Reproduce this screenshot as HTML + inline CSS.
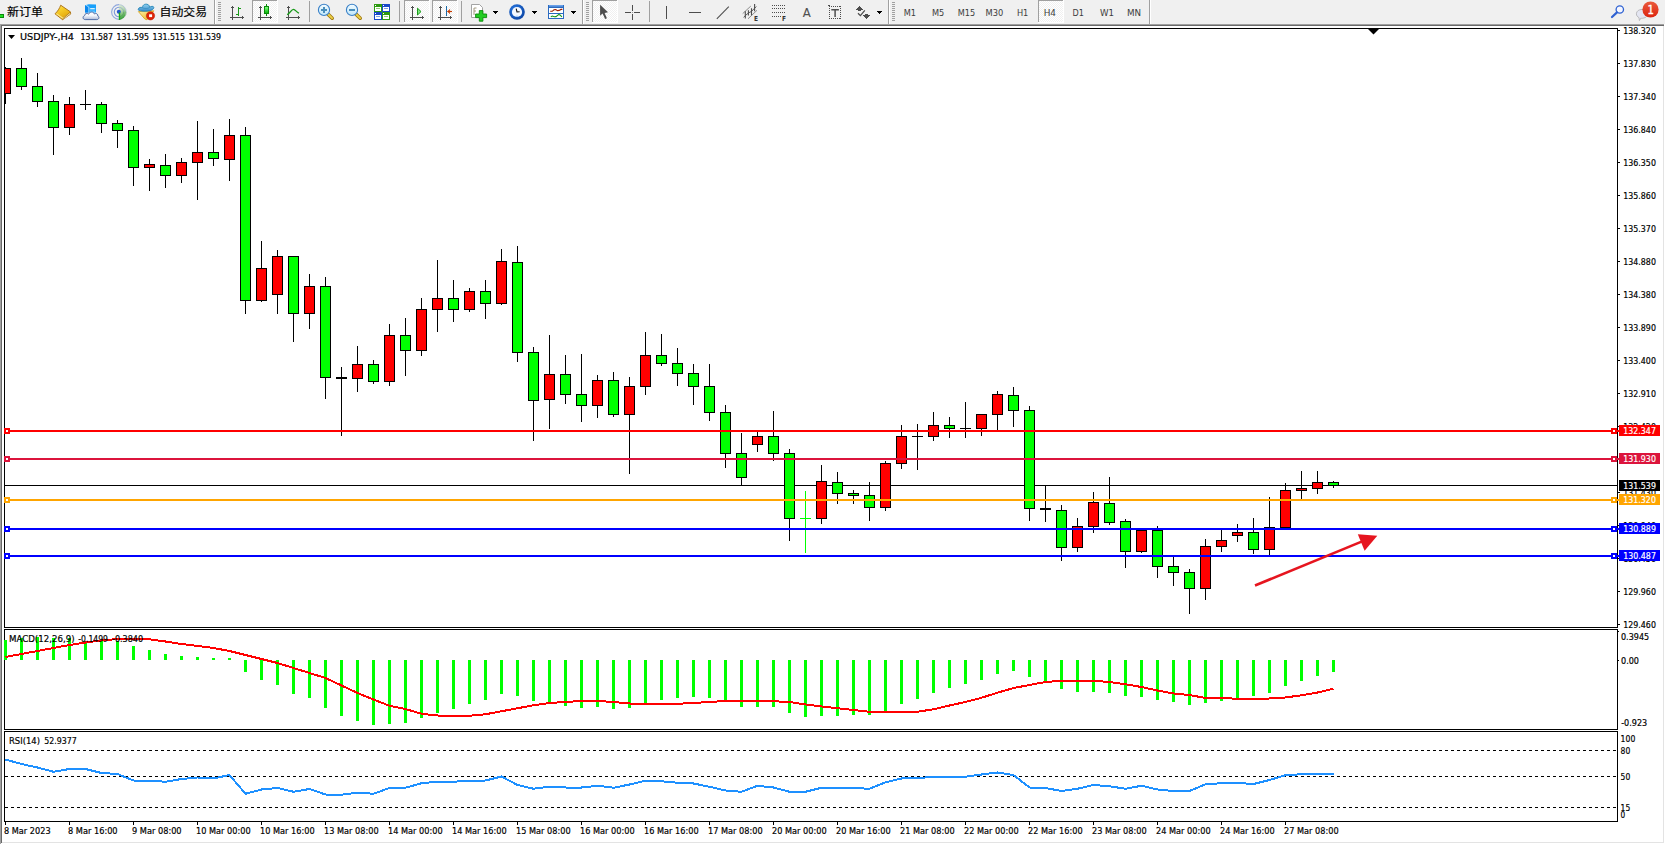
<!DOCTYPE html>
<html lang="zh"><head><meta charset="utf-8"><title>USDJPY-,H4</title>
<style>
html,body{margin:0;padding:0;background:#f0f0f0;overflow:hidden}
body{width:1665px;height:844px}
svg{display:block;font-family:"DejaVu Sans","Liberation Sans","Noto Sans CJK SC",sans-serif}
text{white-space:pre}
</style></head><body>
<svg width="1665" height="844" viewBox="0 0 1665 844">
<g shape-rendering="crispEdges">
<rect x="0" y="0" width="1665" height="24" fill="#f0f0f0"/>
<rect x="0" y="24" width="1665" height="820" fill="#ffffff"/>
<rect x="0" y="24" width="1664" height="1" fill="#a0a0a0"/>
<rect x="0" y="24" width="1" height="820" fill="#a0a0a0"/>
<rect x="1" y="25" width="1663" height="1" fill="#696969"/>
<rect x="1" y="25" width="1" height="818" fill="#696969"/>
<rect x="2" y="842" width="1662" height="1" fill="#e3e3e3"/>
<rect x="1663" y="26" width="1" height="817" fill="#e3e3e3"/>
<rect x="4" y="28" width="1614" height="1" fill="#000"/>
<rect x="4" y="627" width="1614" height="1" fill="#000"/>
<rect x="4" y="28" width="1" height="600" fill="#000"/>
<rect x="1617" y="28" width="1" height="600" fill="#000"/>
<rect x="4" y="629" width="1614" height="1" fill="#000"/>
<rect x="4" y="729" width="1614" height="1" fill="#000"/>
<rect x="4" y="629" width="1" height="101" fill="#000"/>
<rect x="1617" y="629" width="1" height="101" fill="#000"/>
<rect x="4" y="731" width="1614" height="1" fill="#000"/>
<rect x="4" y="821" width="1614" height="1" fill="#000"/>
<rect x="4" y="731" width="1" height="91" fill="#000"/>
<rect x="1617" y="731" width="1" height="91" fill="#000"/>
<rect x="5" y="485" width="1612" height="1" fill="#000"/>
<rect x="5" y="67" width="1" height="37" fill="#000"/>
<rect x="5" y="68" width="6" height="26" fill="#000"/>
<rect x="5" y="69" width="5" height="24" fill="#ff0000"/>
<rect x="21" y="58" width="1" height="32" fill="#000"/>
<rect x="16" y="68" width="11" height="19" fill="#000"/>
<rect x="17" y="69" width="9" height="17" fill="#00ff00"/>
<rect x="37" y="73" width="1" height="34" fill="#000"/>
<rect x="32" y="86" width="11" height="16" fill="#000"/>
<rect x="33" y="87" width="9" height="14" fill="#00ff00"/>
<rect x="53" y="95" width="1" height="60" fill="#000"/>
<rect x="48" y="101" width="11" height="27" fill="#000"/>
<rect x="49" y="102" width="9" height="25" fill="#00ff00"/>
<rect x="69" y="97" width="1" height="38" fill="#000"/>
<rect x="64" y="104" width="11" height="24" fill="#000"/>
<rect x="65" y="105" width="9" height="22" fill="#ff0000"/>
<rect x="85" y="90" width="1" height="20" fill="#000"/>
<rect x="80" y="104" width="11" height="1" fill="#000"/>
<rect x="101" y="102" width="1" height="31" fill="#000"/>
<rect x="96" y="104" width="11" height="20" fill="#000"/>
<rect x="97" y="105" width="9" height="18" fill="#00ff00"/>
<rect x="117" y="120" width="1" height="28" fill="#000"/>
<rect x="112" y="123" width="11" height="8" fill="#000"/>
<rect x="113" y="124" width="9" height="6" fill="#00ff00"/>
<rect x="133" y="126" width="1" height="60" fill="#000"/>
<rect x="128" y="130" width="11" height="38" fill="#000"/>
<rect x="129" y="131" width="9" height="36" fill="#00ff00"/>
<rect x="149" y="159" width="1" height="32" fill="#000"/>
<rect x="144" y="164" width="11" height="4" fill="#000"/>
<rect x="145" y="165" width="9" height="2" fill="#ff0000"/>
<rect x="165" y="154" width="1" height="34" fill="#000"/>
<rect x="160" y="165" width="11" height="11" fill="#000"/>
<rect x="161" y="166" width="9" height="9" fill="#00ff00"/>
<rect x="181" y="158" width="1" height="25" fill="#000"/>
<rect x="176" y="162" width="11" height="14" fill="#000"/>
<rect x="177" y="163" width="9" height="12" fill="#ff0000"/>
<rect x="197" y="121" width="1" height="79" fill="#000"/>
<rect x="192" y="152" width="11" height="11" fill="#000"/>
<rect x="193" y="153" width="9" height="9" fill="#ff0000"/>
<rect x="213" y="129" width="1" height="37" fill="#000"/>
<rect x="208" y="152" width="11" height="7" fill="#000"/>
<rect x="209" y="153" width="9" height="5" fill="#00ff00"/>
<rect x="229" y="119" width="1" height="62" fill="#000"/>
<rect x="224" y="135" width="11" height="25" fill="#000"/>
<rect x="225" y="136" width="9" height="23" fill="#ff0000"/>
<rect x="245" y="127" width="1" height="187" fill="#000"/>
<rect x="240" y="135" width="11" height="166" fill="#000"/>
<rect x="241" y="136" width="9" height="164" fill="#00ff00"/>
<rect x="261" y="241" width="1" height="61" fill="#000"/>
<rect x="256" y="268" width="11" height="33" fill="#000"/>
<rect x="257" y="269" width="9" height="31" fill="#ff0000"/>
<rect x="277" y="250" width="1" height="64" fill="#000"/>
<rect x="272" y="256" width="11" height="39" fill="#000"/>
<rect x="273" y="257" width="9" height="37" fill="#ff0000"/>
<rect x="293" y="256" width="1" height="86" fill="#000"/>
<rect x="288" y="256" width="11" height="58" fill="#000"/>
<rect x="289" y="257" width="9" height="56" fill="#00ff00"/>
<rect x="309" y="274" width="1" height="55" fill="#000"/>
<rect x="304" y="286" width="11" height="28" fill="#000"/>
<rect x="305" y="287" width="9" height="26" fill="#ff0000"/>
<rect x="325" y="277" width="1" height="122" fill="#000"/>
<rect x="320" y="286" width="11" height="92" fill="#000"/>
<rect x="321" y="287" width="9" height="90" fill="#00ff00"/>
<rect x="341" y="367" width="1" height="69" fill="#000"/>
<rect x="336" y="377" width="11" height="2" fill="#000"/>
<rect x="357" y="346" width="1" height="46" fill="#000"/>
<rect x="352" y="364" width="11" height="15" fill="#000"/>
<rect x="353" y="365" width="9" height="13" fill="#ff0000"/>
<rect x="373" y="360" width="1" height="24" fill="#000"/>
<rect x="368" y="364" width="11" height="18" fill="#000"/>
<rect x="369" y="365" width="9" height="16" fill="#00ff00"/>
<rect x="389" y="324" width="1" height="62" fill="#000"/>
<rect x="384" y="335" width="11" height="47" fill="#000"/>
<rect x="385" y="336" width="9" height="45" fill="#ff0000"/>
<rect x="405" y="318" width="1" height="58" fill="#000"/>
<rect x="400" y="335" width="11" height="16" fill="#000"/>
<rect x="401" y="336" width="9" height="14" fill="#00ff00"/>
<rect x="421" y="298" width="1" height="58" fill="#000"/>
<rect x="416" y="309" width="11" height="42" fill="#000"/>
<rect x="417" y="310" width="9" height="40" fill="#ff0000"/>
<rect x="437" y="260" width="1" height="72" fill="#000"/>
<rect x="432" y="298" width="11" height="12" fill="#000"/>
<rect x="433" y="299" width="9" height="10" fill="#ff0000"/>
<rect x="453" y="280" width="1" height="42" fill="#000"/>
<rect x="448" y="298" width="11" height="12" fill="#000"/>
<rect x="449" y="299" width="9" height="10" fill="#00ff00"/>
<rect x="469" y="288" width="1" height="24" fill="#000"/>
<rect x="464" y="291" width="11" height="19" fill="#000"/>
<rect x="465" y="292" width="9" height="17" fill="#ff0000"/>
<rect x="485" y="280" width="1" height="39" fill="#000"/>
<rect x="480" y="291" width="11" height="13" fill="#000"/>
<rect x="481" y="292" width="9" height="11" fill="#00ff00"/>
<rect x="501" y="249" width="1" height="56" fill="#000"/>
<rect x="496" y="261" width="11" height="43" fill="#000"/>
<rect x="497" y="262" width="9" height="41" fill="#ff0000"/>
<rect x="517" y="246" width="1" height="116" fill="#000"/>
<rect x="512" y="262" width="11" height="91" fill="#000"/>
<rect x="513" y="263" width="9" height="89" fill="#00ff00"/>
<rect x="533" y="347" width="1" height="94" fill="#000"/>
<rect x="528" y="352" width="11" height="49" fill="#000"/>
<rect x="529" y="353" width="9" height="47" fill="#00ff00"/>
<rect x="549" y="335" width="1" height="94" fill="#000"/>
<rect x="544" y="374" width="11" height="26" fill="#000"/>
<rect x="545" y="375" width="9" height="24" fill="#ff0000"/>
<rect x="565" y="355" width="1" height="49" fill="#000"/>
<rect x="560" y="374" width="11" height="21" fill="#000"/>
<rect x="561" y="375" width="9" height="19" fill="#00ff00"/>
<rect x="581" y="354" width="1" height="68" fill="#000"/>
<rect x="576" y="394" width="11" height="12" fill="#000"/>
<rect x="577" y="395" width="9" height="10" fill="#00ff00"/>
<rect x="597" y="375" width="1" height="43" fill="#000"/>
<rect x="592" y="380" width="11" height="26" fill="#000"/>
<rect x="593" y="381" width="9" height="24" fill="#ff0000"/>
<rect x="613" y="372" width="1" height="45" fill="#000"/>
<rect x="608" y="380" width="11" height="35" fill="#000"/>
<rect x="609" y="381" width="9" height="33" fill="#00ff00"/>
<rect x="629" y="377" width="1" height="97" fill="#000"/>
<rect x="624" y="386" width="11" height="29" fill="#000"/>
<rect x="625" y="387" width="9" height="27" fill="#ff0000"/>
<rect x="645" y="332" width="1" height="63" fill="#000"/>
<rect x="640" y="355" width="11" height="32" fill="#000"/>
<rect x="641" y="356" width="9" height="30" fill="#ff0000"/>
<rect x="661" y="334" width="1" height="32" fill="#000"/>
<rect x="656" y="355" width="11" height="9" fill="#000"/>
<rect x="657" y="356" width="9" height="7" fill="#00ff00"/>
<rect x="677" y="348" width="1" height="38" fill="#000"/>
<rect x="672" y="363" width="11" height="11" fill="#000"/>
<rect x="673" y="364" width="9" height="9" fill="#00ff00"/>
<rect x="693" y="364" width="1" height="41" fill="#000"/>
<rect x="688" y="373" width="11" height="14" fill="#000"/>
<rect x="689" y="374" width="9" height="12" fill="#00ff00"/>
<rect x="709" y="364" width="1" height="57" fill="#000"/>
<rect x="704" y="386" width="11" height="27" fill="#000"/>
<rect x="705" y="387" width="9" height="25" fill="#00ff00"/>
<rect x="725" y="405" width="1" height="63" fill="#000"/>
<rect x="720" y="412" width="11" height="42" fill="#000"/>
<rect x="721" y="413" width="9" height="40" fill="#00ff00"/>
<rect x="741" y="433" width="1" height="52" fill="#000"/>
<rect x="736" y="453" width="11" height="25" fill="#000"/>
<rect x="737" y="454" width="9" height="23" fill="#00ff00"/>
<rect x="757" y="432" width="1" height="20" fill="#000"/>
<rect x="752" y="436" width="11" height="9" fill="#000"/>
<rect x="753" y="437" width="9" height="7" fill="#ff0000"/>
<rect x="773" y="411" width="1" height="50" fill="#000"/>
<rect x="768" y="436" width="11" height="18" fill="#000"/>
<rect x="769" y="437" width="9" height="16" fill="#00ff00"/>
<rect x="789" y="449" width="1" height="92" fill="#000"/>
<rect x="784" y="453" width="11" height="66" fill="#000"/>
<rect x="785" y="454" width="9" height="64" fill="#00ff00"/>
<rect x="805" y="491" width="1" height="62" fill="#00ff00"/>
<rect x="800" y="518" width="11" height="1" fill="#00ff00"/>
<rect x="821" y="465" width="1" height="59" fill="#000"/>
<rect x="816" y="481" width="11" height="38" fill="#000"/>
<rect x="817" y="482" width="9" height="36" fill="#ff0000"/>
<rect x="837" y="472" width="1" height="32" fill="#000"/>
<rect x="832" y="482" width="11" height="12" fill="#000"/>
<rect x="833" y="483" width="9" height="10" fill="#00ff00"/>
<rect x="853" y="490" width="1" height="14" fill="#000"/>
<rect x="848" y="493" width="11" height="3" fill="#000"/>
<rect x="849" y="494" width="9" height="1" fill="#00ff00"/>
<rect x="869" y="482" width="1" height="39" fill="#000"/>
<rect x="864" y="495" width="11" height="13" fill="#000"/>
<rect x="865" y="496" width="9" height="11" fill="#00ff00"/>
<rect x="885" y="461" width="1" height="50" fill="#000"/>
<rect x="880" y="463" width="11" height="45" fill="#000"/>
<rect x="881" y="464" width="9" height="43" fill="#ff0000"/>
<rect x="901" y="425" width="1" height="44" fill="#000"/>
<rect x="896" y="436" width="11" height="28" fill="#000"/>
<rect x="897" y="437" width="9" height="26" fill="#ff0000"/>
<rect x="917" y="424" width="1" height="46" fill="#000"/>
<rect x="912" y="436" width="11" height="1" fill="#000"/>
<rect x="933" y="412" width="1" height="29" fill="#000"/>
<rect x="928" y="425" width="11" height="12" fill="#000"/>
<rect x="929" y="426" width="9" height="10" fill="#ff0000"/>
<rect x="949" y="417" width="1" height="21" fill="#000"/>
<rect x="944" y="425" width="11" height="4" fill="#000"/>
<rect x="945" y="426" width="9" height="2" fill="#00ff00"/>
<rect x="965" y="402" width="1" height="36" fill="#000"/>
<rect x="960" y="428" width="11" height="1" fill="#000"/>
<rect x="981" y="414" width="1" height="22" fill="#000"/>
<rect x="976" y="414" width="11" height="15" fill="#000"/>
<rect x="977" y="415" width="9" height="13" fill="#ff0000"/>
<rect x="997" y="391" width="1" height="39" fill="#000"/>
<rect x="992" y="394" width="11" height="21" fill="#000"/>
<rect x="993" y="395" width="9" height="19" fill="#ff0000"/>
<rect x="1013" y="387" width="1" height="40" fill="#000"/>
<rect x="1008" y="395" width="11" height="16" fill="#000"/>
<rect x="1009" y="396" width="9" height="14" fill="#00ff00"/>
<rect x="1029" y="406" width="1" height="115" fill="#000"/>
<rect x="1024" y="410" width="11" height="99" fill="#000"/>
<rect x="1025" y="411" width="9" height="97" fill="#00ff00"/>
<rect x="1045" y="485" width="1" height="37" fill="#000"/>
<rect x="1040" y="508" width="11" height="2" fill="#000"/>
<rect x="1061" y="505" width="1" height="56" fill="#000"/>
<rect x="1056" y="510" width="11" height="38" fill="#000"/>
<rect x="1057" y="511" width="9" height="36" fill="#00ff00"/>
<rect x="1077" y="518" width="1" height="34" fill="#000"/>
<rect x="1072" y="526" width="11" height="22" fill="#000"/>
<rect x="1073" y="527" width="9" height="20" fill="#ff0000"/>
<rect x="1093" y="492" width="1" height="41" fill="#000"/>
<rect x="1088" y="502" width="11" height="25" fill="#000"/>
<rect x="1089" y="503" width="9" height="23" fill="#ff0000"/>
<rect x="1109" y="477" width="1" height="48" fill="#000"/>
<rect x="1104" y="503" width="11" height="20" fill="#000"/>
<rect x="1105" y="504" width="9" height="18" fill="#00ff00"/>
<rect x="1125" y="519" width="1" height="49" fill="#000"/>
<rect x="1120" y="521" width="11" height="31" fill="#000"/>
<rect x="1121" y="522" width="9" height="29" fill="#00ff00"/>
<rect x="1141" y="530" width="1" height="23" fill="#000"/>
<rect x="1136" y="530" width="11" height="22" fill="#000"/>
<rect x="1137" y="531" width="9" height="20" fill="#ff0000"/>
<rect x="1157" y="526" width="1" height="52" fill="#000"/>
<rect x="1152" y="530" width="11" height="37" fill="#000"/>
<rect x="1153" y="531" width="9" height="35" fill="#00ff00"/>
<rect x="1173" y="557" width="1" height="29" fill="#000"/>
<rect x="1168" y="566" width="11" height="7" fill="#000"/>
<rect x="1169" y="567" width="9" height="5" fill="#00ff00"/>
<rect x="1189" y="569" width="1" height="45" fill="#000"/>
<rect x="1184" y="572" width="11" height="17" fill="#000"/>
<rect x="1185" y="573" width="9" height="15" fill="#00ff00"/>
<rect x="1205" y="539" width="1" height="61" fill="#000"/>
<rect x="1200" y="546" width="11" height="43" fill="#000"/>
<rect x="1201" y="547" width="9" height="41" fill="#ff0000"/>
<rect x="1221" y="530" width="1" height="22" fill="#000"/>
<rect x="1216" y="540" width="11" height="7" fill="#000"/>
<rect x="1217" y="541" width="9" height="5" fill="#ff0000"/>
<rect x="1237" y="524" width="1" height="18" fill="#000"/>
<rect x="1232" y="532" width="11" height="4" fill="#000"/>
<rect x="1233" y="533" width="9" height="2" fill="#ff0000"/>
<rect x="1253" y="518" width="1" height="36" fill="#000"/>
<rect x="1248" y="532" width="11" height="18" fill="#000"/>
<rect x="1249" y="533" width="9" height="16" fill="#00ff00"/>
<rect x="1269" y="497" width="1" height="58" fill="#000"/>
<rect x="1264" y="527" width="11" height="23" fill="#000"/>
<rect x="1265" y="528" width="9" height="21" fill="#ff0000"/>
<rect x="1285" y="483" width="1" height="45" fill="#000"/>
<rect x="1280" y="490" width="11" height="38" fill="#000"/>
<rect x="1281" y="491" width="9" height="36" fill="#ff0000"/>
<rect x="1301" y="471" width="1" height="28" fill="#000"/>
<rect x="1296" y="488" width="11" height="3" fill="#000"/>
<rect x="1297" y="489" width="9" height="1" fill="#ff0000"/>
<rect x="1317" y="471" width="1" height="23" fill="#000"/>
<rect x="1312" y="482" width="11" height="7" fill="#000"/>
<rect x="1313" y="483" width="9" height="5" fill="#ff0000"/>
<rect x="1333" y="481" width="1" height="7" fill="#000"/>
<rect x="1328" y="482" width="11" height="4" fill="#000"/>
<rect x="1329" y="483" width="9" height="2" fill="#00ff00"/>
</g>
<g id="plabels">
<rect x="1618" y="30" width="2" height="1" fill="#000" shape-rendering="crispEdges"/>
<text x="1623.3" y="34" font-size="9" fill="#000" stroke="#000" stroke-width="0.2" textLength="32.6" lengthAdjust="spacingAndGlyphs">138.320</text>
<rect x="1618" y="63" width="2" height="1" fill="#000" shape-rendering="crispEdges"/>
<text x="1623.3" y="67" font-size="9" fill="#000" stroke="#000" stroke-width="0.2" textLength="32.6" lengthAdjust="spacingAndGlyphs">137.830</text>
<rect x="1618" y="96" width="2" height="1" fill="#000" shape-rendering="crispEdges"/>
<text x="1623.3" y="100" font-size="9" fill="#000" stroke="#000" stroke-width="0.2" textLength="32.6" lengthAdjust="spacingAndGlyphs">137.340</text>
<rect x="1618" y="129" width="2" height="1" fill="#000" shape-rendering="crispEdges"/>
<text x="1623.3" y="133" font-size="9" fill="#000" stroke="#000" stroke-width="0.2" textLength="32.6" lengthAdjust="spacingAndGlyphs">136.840</text>
<rect x="1618" y="162" width="2" height="1" fill="#000" shape-rendering="crispEdges"/>
<text x="1623.3" y="166" font-size="9" fill="#000" stroke="#000" stroke-width="0.2" textLength="32.6" lengthAdjust="spacingAndGlyphs">136.350</text>
<rect x="1618" y="195" width="2" height="1" fill="#000" shape-rendering="crispEdges"/>
<text x="1623.3" y="199" font-size="9" fill="#000" stroke="#000" stroke-width="0.2" textLength="32.6" lengthAdjust="spacingAndGlyphs">135.860</text>
<rect x="1618" y="228" width="2" height="1" fill="#000" shape-rendering="crispEdges"/>
<text x="1623.3" y="232" font-size="9" fill="#000" stroke="#000" stroke-width="0.2" textLength="32.6" lengthAdjust="spacingAndGlyphs">135.370</text>
<rect x="1618" y="261" width="2" height="1" fill="#000" shape-rendering="crispEdges"/>
<text x="1623.3" y="265" font-size="9" fill="#000" stroke="#000" stroke-width="0.2" textLength="32.6" lengthAdjust="spacingAndGlyphs">134.880</text>
<rect x="1618" y="294" width="2" height="1" fill="#000" shape-rendering="crispEdges"/>
<text x="1623.3" y="298" font-size="9" fill="#000" stroke="#000" stroke-width="0.2" textLength="32.6" lengthAdjust="spacingAndGlyphs">134.380</text>
<rect x="1618" y="327" width="2" height="1" fill="#000" shape-rendering="crispEdges"/>
<text x="1623.3" y="331" font-size="9" fill="#000" stroke="#000" stroke-width="0.2" textLength="32.6" lengthAdjust="spacingAndGlyphs">133.890</text>
<rect x="1618" y="360" width="2" height="1" fill="#000" shape-rendering="crispEdges"/>
<text x="1623.3" y="364" font-size="9" fill="#000" stroke="#000" stroke-width="0.2" textLength="32.6" lengthAdjust="spacingAndGlyphs">133.400</text>
<rect x="1618" y="393" width="2" height="1" fill="#000" shape-rendering="crispEdges"/>
<text x="1623.3" y="397" font-size="9" fill="#000" stroke="#000" stroke-width="0.2" textLength="32.6" lengthAdjust="spacingAndGlyphs">132.910</text>
<rect x="1618" y="426" width="2" height="1" fill="#000" shape-rendering="crispEdges"/>
<text x="1623.3" y="430" font-size="9" fill="#000" stroke="#000" stroke-width="0.2" textLength="32.6" lengthAdjust="spacingAndGlyphs">132.420</text>
<rect x="1618" y="459" width="2" height="1" fill="#000" shape-rendering="crispEdges"/>
<text x="1623.3" y="463" font-size="9" fill="#000" stroke="#000" stroke-width="0.2" textLength="32.6" lengthAdjust="spacingAndGlyphs">131.930</text>
<rect x="1618" y="492" width="2" height="1" fill="#000" shape-rendering="crispEdges"/>
<text x="1623.3" y="496" font-size="9" fill="#000" stroke="#000" stroke-width="0.2" textLength="32.6" lengthAdjust="spacingAndGlyphs">131.430</text>
<rect x="1618" y="525" width="2" height="1" fill="#000" shape-rendering="crispEdges"/>
<text x="1623.3" y="529" font-size="9" fill="#000" stroke="#000" stroke-width="0.2" textLength="32.6" lengthAdjust="spacingAndGlyphs">130.940</text>
<rect x="1618" y="558" width="2" height="1" fill="#000" shape-rendering="crispEdges"/>
<text x="1623.3" y="562" font-size="9" fill="#000" stroke="#000" stroke-width="0.2" textLength="32.6" lengthAdjust="spacingAndGlyphs">130.450</text>
<rect x="1618" y="591" width="2" height="1" fill="#000" shape-rendering="crispEdges"/>
<text x="1623.3" y="595" font-size="9" fill="#000" stroke="#000" stroke-width="0.2" textLength="32.6" lengthAdjust="spacingAndGlyphs">129.960</text>
<rect x="1618" y="624" width="2" height="1" fill="#000" shape-rendering="crispEdges"/>
<text x="1623.3" y="628" font-size="9" fill="#000" stroke="#000" stroke-width="0.2" textLength="32.6" lengthAdjust="spacingAndGlyphs">129.460</text>
</g>
<g shape-rendering="crispEdges">
<rect x="5" y="430" width="1614" height="2" fill="#ff0000"/>
<rect x="4" y="428" width="6" height="6" fill="#ff0000"/>
<rect x="6" y="430" width="2" height="2" fill="#fff"/>
<rect x="1611" y="428" width="6" height="6" fill="#ff0000"/>
<rect x="1613" y="430" width="2" height="2" fill="#fff"/>
<rect x="1619" y="425" width="41" height="11" fill="#ff0000"/>
<rect x="5" y="458" width="1614" height="2" fill="#dc143c"/>
<rect x="4" y="456" width="6" height="6" fill="#dc143c"/>
<rect x="6" y="458" width="2" height="2" fill="#fff"/>
<rect x="1611" y="456" width="6" height="6" fill="#dc143c"/>
<rect x="1613" y="458" width="2" height="2" fill="#fff"/>
<rect x="1619" y="453" width="41" height="11" fill="#dc143c"/>
<rect x="5" y="499" width="1614" height="2" fill="#ffa500"/>
<rect x="4" y="497" width="6" height="6" fill="#ffa500"/>
<rect x="6" y="499" width="2" height="2" fill="#fff"/>
<rect x="1611" y="497" width="6" height="6" fill="#ffa500"/>
<rect x="1613" y="499" width="2" height="2" fill="#fff"/>
<rect x="1619" y="494" width="41" height="11" fill="#ffa500"/>
<rect x="5" y="528" width="1614" height="2" fill="#0000ff"/>
<rect x="4" y="526" width="6" height="6" fill="#0000ff"/>
<rect x="6" y="528" width="2" height="2" fill="#fff"/>
<rect x="1611" y="526" width="6" height="6" fill="#0000ff"/>
<rect x="1613" y="528" width="2" height="2" fill="#fff"/>
<rect x="1619" y="523" width="41" height="11" fill="#0000ff"/>
<rect x="5" y="555" width="1614" height="2" fill="#0000ff"/>
<rect x="4" y="553" width="6" height="6" fill="#0000ff"/>
<rect x="6" y="555" width="2" height="2" fill="#fff"/>
<rect x="1611" y="553" width="6" height="6" fill="#0000ff"/>
<rect x="1613" y="555" width="2" height="2" fill="#fff"/>
<rect x="1619" y="550" width="41" height="11" fill="#0000ff"/>
<rect x="1619" y="480" width="41" height="11" fill="#000"/>
</g>
<text x="1623.3" y="434" font-size="9" fill="#fff" stroke="#fff" stroke-width="0.2" textLength="32.6" lengthAdjust="spacingAndGlyphs">132.347</text>
<text x="1623.3" y="462" font-size="9" fill="#fff" stroke="#fff" stroke-width="0.2" textLength="32.6" lengthAdjust="spacingAndGlyphs">131.930</text>
<text x="1623.3" y="503" font-size="9" fill="#fff" stroke="#fff" stroke-width="0.2" textLength="32.6" lengthAdjust="spacingAndGlyphs">131.320</text>
<text x="1623.3" y="532" font-size="9" fill="#fff" stroke="#fff" stroke-width="0.2" textLength="32.6" lengthAdjust="spacingAndGlyphs">130.889</text>
<text x="1623.3" y="559" font-size="9" fill="#fff" stroke="#fff" stroke-width="0.2" textLength="32.6" lengthAdjust="spacingAndGlyphs">130.487</text>
<text x="1623.3" y="489" font-size="9" fill="#fff" stroke="#fff" stroke-width="0.2" textLength="32.6" lengthAdjust="spacingAndGlyphs">131.539</text>
<line x1="1255" y1="585.5" x2="1364" y2="540.6" stroke="#e6151f" stroke-width="2.6"/>
<polygon points="1377.3,535.8 1357.8,534.2 1364.6,550.8" fill="#e6151f"/>
<polygon points="1368,29 1379,29 1373.5,34.5" fill="#000"/>
<polygon points="8,35 15,35 11.5,39" fill="#000"/>
<text x="20" y="40" font-size="9" fill="#000" stroke="#000" stroke-width="0.2" textLength="54.0" lengthAdjust="spacingAndGlyphs">USDJPY-,H4</text>
<text x="80.5" y="40" font-size="9" fill="#000" stroke="#000" stroke-width="0.2" textLength="32.5" lengthAdjust="spacingAndGlyphs">131.587</text>
<text x="116.5" y="40" font-size="9" fill="#000" stroke="#000" stroke-width="0.2" textLength="32.5" lengthAdjust="spacingAndGlyphs">131.595</text>
<text x="152.5" y="40" font-size="9" fill="#000" stroke="#000" stroke-width="0.2" textLength="32.5" lengthAdjust="spacingAndGlyphs">131.515</text>
<text x="188.5" y="40" font-size="9" fill="#000" stroke="#000" stroke-width="0.2" textLength="32.5" lengthAdjust="spacingAndGlyphs">131.539</text>
<g shape-rendering="crispEdges">
<rect x="4" y="640" width="3" height="20" fill="#00ff00"/>
<rect x="20" y="638" width="3" height="22" fill="#00ff00"/>
<rect x="36" y="637" width="3" height="23" fill="#00ff00"/>
<rect x="52" y="638" width="3" height="22" fill="#00ff00"/>
<rect x="68" y="638" width="3" height="22" fill="#00ff00"/>
<rect x="84" y="641" width="3" height="19" fill="#00ff00"/>
<rect x="100" y="640" width="3" height="20" fill="#00ff00"/>
<rect x="116" y="641" width="3" height="19" fill="#00ff00"/>
<rect x="132" y="646" width="3" height="14" fill="#00ff00"/>
<rect x="148" y="650" width="3" height="10" fill="#00ff00"/>
<rect x="164" y="654" width="3" height="6" fill="#00ff00"/>
<rect x="180" y="656" width="3" height="4" fill="#00ff00"/>
<rect x="196" y="657" width="3" height="3" fill="#00ff00"/>
<rect x="212" y="658" width="3" height="2" fill="#00ff00"/>
<rect x="228" y="658" width="3" height="2" fill="#00ff00"/>
<rect x="244" y="660" width="3" height="12" fill="#00ff00"/>
<rect x="260" y="660" width="3" height="20" fill="#00ff00"/>
<rect x="276" y="660" width="3" height="25" fill="#00ff00"/>
<rect x="292" y="660" width="3" height="34" fill="#00ff00"/>
<rect x="308" y="660" width="3" height="38" fill="#00ff00"/>
<rect x="324" y="660" width="3" height="48" fill="#00ff00"/>
<rect x="340" y="660" width="3" height="56" fill="#00ff00"/>
<rect x="356" y="660" width="3" height="61" fill="#00ff00"/>
<rect x="372" y="660" width="3" height="65" fill="#00ff00"/>
<rect x="388" y="660" width="3" height="64" fill="#00ff00"/>
<rect x="404" y="660" width="3" height="63" fill="#00ff00"/>
<rect x="420" y="660" width="3" height="58" fill="#00ff00"/>
<rect x="436" y="660" width="3" height="53" fill="#00ff00"/>
<rect x="452" y="660" width="3" height="49" fill="#00ff00"/>
<rect x="468" y="660" width="3" height="44" fill="#00ff00"/>
<rect x="484" y="660" width="3" height="40" fill="#00ff00"/>
<rect x="500" y="660" width="3" height="34" fill="#00ff00"/>
<rect x="516" y="660" width="3" height="36" fill="#00ff00"/>
<rect x="532" y="660" width="3" height="41" fill="#00ff00"/>
<rect x="548" y="660" width="3" height="43" fill="#00ff00"/>
<rect x="564" y="660" width="3" height="46" fill="#00ff00"/>
<rect x="580" y="660" width="3" height="48" fill="#00ff00"/>
<rect x="596" y="660" width="3" height="47" fill="#00ff00"/>
<rect x="612" y="660" width="3" height="49" fill="#00ff00"/>
<rect x="628" y="660" width="3" height="48" fill="#00ff00"/>
<rect x="644" y="660" width="3" height="43" fill="#00ff00"/>
<rect x="660" y="660" width="3" height="40" fill="#00ff00"/>
<rect x="676" y="660" width="3" height="38" fill="#00ff00"/>
<rect x="692" y="660" width="3" height="37" fill="#00ff00"/>
<rect x="708" y="660" width="3" height="38" fill="#00ff00"/>
<rect x="724" y="660" width="3" height="42" fill="#00ff00"/>
<rect x="740" y="660" width="3" height="47" fill="#00ff00"/>
<rect x="756" y="660" width="3" height="47" fill="#00ff00"/>
<rect x="772" y="660" width="3" height="47" fill="#00ff00"/>
<rect x="788" y="660" width="3" height="53" fill="#00ff00"/>
<rect x="804" y="660" width="3" height="57" fill="#00ff00"/>
<rect x="820" y="660" width="3" height="56" fill="#00ff00"/>
<rect x="836" y="660" width="3" height="56" fill="#00ff00"/>
<rect x="852" y="660" width="3" height="55" fill="#00ff00"/>
<rect x="868" y="660" width="3" height="55" fill="#00ff00"/>
<rect x="884" y="660" width="3" height="51" fill="#00ff00"/>
<rect x="900" y="660" width="3" height="44" fill="#00ff00"/>
<rect x="916" y="660" width="3" height="39" fill="#00ff00"/>
<rect x="932" y="660" width="3" height="33" fill="#00ff00"/>
<rect x="948" y="660" width="3" height="28" fill="#00ff00"/>
<rect x="964" y="660" width="3" height="24" fill="#00ff00"/>
<rect x="980" y="660" width="3" height="20" fill="#00ff00"/>
<rect x="996" y="660" width="3" height="14" fill="#00ff00"/>
<rect x="1012" y="660" width="3" height="11" fill="#00ff00"/>
<rect x="1028" y="660" width="3" height="17" fill="#00ff00"/>
<rect x="1044" y="660" width="3" height="22" fill="#00ff00"/>
<rect x="1060" y="660" width="3" height="29" fill="#00ff00"/>
<rect x="1076" y="660" width="3" height="32" fill="#00ff00"/>
<rect x="1092" y="660" width="3" height="32" fill="#00ff00"/>
<rect x="1108" y="660" width="3" height="33" fill="#00ff00"/>
<rect x="1124" y="660" width="3" height="36" fill="#00ff00"/>
<rect x="1140" y="660" width="3" height="37" fill="#00ff00"/>
<rect x="1156" y="660" width="3" height="40" fill="#00ff00"/>
<rect x="1172" y="660" width="3" height="42" fill="#00ff00"/>
<rect x="1188" y="660" width="3" height="45" fill="#00ff00"/>
<rect x="1204" y="660" width="3" height="43" fill="#00ff00"/>
<rect x="1220" y="660" width="3" height="41" fill="#00ff00"/>
<rect x="1236" y="660" width="3" height="38" fill="#00ff00"/>
<rect x="1252" y="660" width="3" height="36" fill="#00ff00"/>
<rect x="1268" y="660" width="3" height="33" fill="#00ff00"/>
<rect x="1284" y="660" width="3" height="26" fill="#00ff00"/>
<rect x="1300" y="660" width="3" height="21" fill="#00ff00"/>
<rect x="1316" y="660" width="3" height="16" fill="#00ff00"/>
<rect x="1332" y="660" width="3" height="12" fill="#00ff00"/>
</g>
<polyline points="5.5,657 21.5,654 37.5,651 53.5,648 69.5,645 85.5,642.5 101.5,640.5 117.5,639 133.5,638.8 147.5,639 165.5,641.5 181.5,644 197.5,646 213.5,648 229.5,651 245.5,655 261.5,659 277.5,663 293.5,668 309.5,673 325.5,678 341.5,685.5 357.5,693 373.5,699.5 389.5,705.75 405.5,709 421.5,713.75 437.5,715.5 453.5,715.75 469.5,715.75 485.5,714.25 501.5,711.25 517.5,708.25 533.5,705.25 549.5,703 565.5,702 581.5,701 597.5,701 613.5,702 629.5,703.5 645.5,703.75 661.5,703.75 677.5,703.75 693.5,703 709.5,702 725.5,701 741.5,700.75 757.5,700.75 773.5,701.25 789.5,702 805.5,704.5 821.5,706.5 837.5,708.25 853.5,710 869.5,711.75 885.5,712 901.5,712 917.5,711.75 933.5,709.25 949.5,705.5 965.5,702 981.5,697.75 997.5,692.75 1013.5,688 1029.5,685 1045.5,682 1061.5,680.75 1077.5,680.75 1093.5,680.75 1109.5,682 1125.5,684.25 1141.5,687 1157.5,690.5 1173.5,693.5 1189.5,695 1205.5,698 1221.5,698 1237.5,698.75 1253.5,698.75 1269.5,698.5 1285.5,697.5 1301.5,695.25 1317.5,692.5 1333.5,688.75" fill="none" stroke="#ff0000" stroke-width="2" stroke-linejoin="round" shape-rendering="crispEdges"/>
<text x="9" y="642" font-size="9" fill="#000" stroke="#000" stroke-width="0.2" textLength="65.5" lengthAdjust="spacingAndGlyphs">MACD(12,26,9)</text>
<text x="78.3" y="642" font-size="9" fill="#000" stroke="#000" stroke-width="0.2" textLength="29.7" lengthAdjust="spacingAndGlyphs">-0.1499</text>
<text x="112" y="642" font-size="9" fill="#000" stroke="#000" stroke-width="0.2" textLength="31.0" lengthAdjust="spacingAndGlyphs">-0.3840</text>
<text x="1621" y="640" font-size="9" fill="#000" stroke="#000" stroke-width="0.2" textLength="28.1" lengthAdjust="spacingAndGlyphs">0.3945</text>
<text x="1621" y="664" font-size="9" fill="#000" stroke="#000" stroke-width="0.2" textLength="18.0" lengthAdjust="spacingAndGlyphs">0.00</text>
<text x="1621.2" y="726" font-size="9" fill="#000" stroke="#000" stroke-width="0.2" textLength="26.0" lengthAdjust="spacingAndGlyphs">-0.923</text>
<rect x="1618" y="660" width="1" height="1" fill="#000" shape-rendering="crispEdges"/><rect x="1618" y="631" width="1" height="1" fill="#000" shape-rendering="crispEdges"/>
<line x1="5" y1="750.5" x2="1617" y2="750.5" stroke="#000" stroke-width="1" stroke-dasharray="3,3" shape-rendering="crispEdges"/>
<line x1="5" y1="776.5" x2="1617" y2="776.5" stroke="#000" stroke-width="1" stroke-dasharray="3,3" shape-rendering="crispEdges"/>
<line x1="5" y1="807.5" x2="1617" y2="807.5" stroke="#000" stroke-width="1" stroke-dasharray="3,3" shape-rendering="crispEdges"/>
<polyline points="5.5,759.5 21.5,764 37.5,767.5 53.5,771.75 69.5,769 85.5,769 101.5,773 117.5,774 133.5,780.5 149.5,780.75 165.5,781.75 181.5,779 197.5,777.5 213.5,778.5 229.5,775 245.5,793.75 261.5,789.5 277.5,788 293.5,791.75 309.5,789 325.5,794.5 341.5,794.75 357.5,792.75 373.5,793.75 389.5,788 405.5,787.75 421.5,783.25 437.5,781.75 453.5,781.75 469.5,780.75 485.5,780.5 501.5,776.5 517.5,785 533.5,788.75 549.5,786.75 565.5,787.5 581.5,787.5 597.5,785.75 613.5,787.75 629.5,784.5 645.5,780.75 661.5,781.25 677.5,782.75 693.5,783.5 709.5,786.75 725.5,790.5 741.5,791.75 757.5,785.75 773.5,787.5 789.5,791.75 805.5,791.75 821.5,787.75 837.5,787.75 853.5,788 869.5,788.75 885.5,782.25 901.5,778.5 917.5,777.75 933.5,777.25 949.5,776.75 965.5,776.75 981.5,774.5 997.5,772.5 1013.5,775 1029.5,787.5 1045.5,788 1061.5,791 1077.5,788.75 1093.5,785 1109.5,786.25 1125.5,788.75 1141.5,785.75 1157.5,789.5 1173.5,791 1189.5,791 1205.5,784.25 1221.5,783.25 1237.5,783 1253.5,784 1269.5,780 1285.5,775.25 1301.5,774.25 1317.5,774 1333.5,774" fill="none" stroke="#1e90ff" stroke-width="2" stroke-linejoin="round" shape-rendering="crispEdges"/>
<text x="9" y="744" font-size="9" fill="#000" stroke="#000" stroke-width="0.2" textLength="31.0" lengthAdjust="spacingAndGlyphs">RSI(14)</text>
<text x="44.3" y="744" font-size="9" fill="#000" stroke="#000" stroke-width="0.2" textLength="32.5" lengthAdjust="spacingAndGlyphs">52.9377</text>
<text x="1620.6" y="742" font-size="9" fill="#000" stroke="#000" stroke-width="0.2" textLength="14.7" lengthAdjust="spacingAndGlyphs">100</text>
<text x="1620.6" y="754" font-size="9" fill="#000" stroke="#000" stroke-width="0.2" textLength="9.7" lengthAdjust="spacingAndGlyphs">80</text>
<text x="1620.6" y="780" font-size="9" fill="#000" stroke="#000" stroke-width="0.2" textLength="9.7" lengthAdjust="spacingAndGlyphs">50</text>
<text x="1620.6" y="811" font-size="9" fill="#000" stroke="#000" stroke-width="0.2" textLength="9.7" lengthAdjust="spacingAndGlyphs">15</text>
<text x="1620.6" y="818" font-size="9" fill="#000" stroke="#000" stroke-width="0.2" textLength="4.7" lengthAdjust="spacingAndGlyphs">0</text>
<g shape-rendering="crispEdges">
<rect x="5" y="822" width="1" height="3" fill="#000"/>
<rect x="69" y="822" width="1" height="3" fill="#000"/>
<rect x="133" y="822" width="1" height="3" fill="#000"/>
<rect x="197" y="822" width="1" height="3" fill="#000"/>
<rect x="261" y="822" width="1" height="3" fill="#000"/>
<rect x="325" y="822" width="1" height="3" fill="#000"/>
<rect x="389" y="822" width="1" height="3" fill="#000"/>
<rect x="453" y="822" width="1" height="3" fill="#000"/>
<rect x="517" y="822" width="1" height="3" fill="#000"/>
<rect x="581" y="822" width="1" height="3" fill="#000"/>
<rect x="645" y="822" width="1" height="3" fill="#000"/>
<rect x="709" y="822" width="1" height="3" fill="#000"/>
<rect x="773" y="822" width="1" height="3" fill="#000"/>
<rect x="837" y="822" width="1" height="3" fill="#000"/>
<rect x="901" y="822" width="1" height="3" fill="#000"/>
<rect x="965" y="822" width="1" height="3" fill="#000"/>
<rect x="1029" y="822" width="1" height="3" fill="#000"/>
<rect x="1093" y="822" width="1" height="3" fill="#000"/>
<rect x="1157" y="822" width="1" height="3" fill="#000"/>
<rect x="1221" y="822" width="1" height="3" fill="#000"/>
<rect x="1285" y="822" width="1" height="3" fill="#000"/>
</g>
<text x="4" y="834" font-size="9" fill="#000" stroke="#000" stroke-width="0.2" textLength="46.6" lengthAdjust="spacingAndGlyphs">8 Mar 2023</text>
<text x="68" y="834" font-size="9" fill="#000" stroke="#000" stroke-width="0.2" textLength="49.6" lengthAdjust="spacingAndGlyphs">8 Mar 16:00</text>
<text x="132" y="834" font-size="9" fill="#000" stroke="#000" stroke-width="0.2" textLength="49.6" lengthAdjust="spacingAndGlyphs">9 Mar 08:00</text>
<text x="196" y="834" font-size="9" fill="#000" stroke="#000" stroke-width="0.2" textLength="54.6" lengthAdjust="spacingAndGlyphs">10 Mar 00:00</text>
<text x="260" y="834" font-size="9" fill="#000" stroke="#000" stroke-width="0.2" textLength="54.6" lengthAdjust="spacingAndGlyphs">10 Mar 16:00</text>
<text x="324" y="834" font-size="9" fill="#000" stroke="#000" stroke-width="0.2" textLength="54.6" lengthAdjust="spacingAndGlyphs">13 Mar 08:00</text>
<text x="388" y="834" font-size="9" fill="#000" stroke="#000" stroke-width="0.2" textLength="54.6" lengthAdjust="spacingAndGlyphs">14 Mar 00:00</text>
<text x="452" y="834" font-size="9" fill="#000" stroke="#000" stroke-width="0.2" textLength="54.6" lengthAdjust="spacingAndGlyphs">14 Mar 16:00</text>
<text x="516" y="834" font-size="9" fill="#000" stroke="#000" stroke-width="0.2" textLength="54.6" lengthAdjust="spacingAndGlyphs">15 Mar 08:00</text>
<text x="580" y="834" font-size="9" fill="#000" stroke="#000" stroke-width="0.2" textLength="54.6" lengthAdjust="spacingAndGlyphs">16 Mar 00:00</text>
<text x="644" y="834" font-size="9" fill="#000" stroke="#000" stroke-width="0.2" textLength="54.6" lengthAdjust="spacingAndGlyphs">16 Mar 16:00</text>
<text x="708" y="834" font-size="9" fill="#000" stroke="#000" stroke-width="0.2" textLength="54.6" lengthAdjust="spacingAndGlyphs">17 Mar 08:00</text>
<text x="772" y="834" font-size="9" fill="#000" stroke="#000" stroke-width="0.2" textLength="54.6" lengthAdjust="spacingAndGlyphs">20 Mar 00:00</text>
<text x="836" y="834" font-size="9" fill="#000" stroke="#000" stroke-width="0.2" textLength="54.6" lengthAdjust="spacingAndGlyphs">20 Mar 16:00</text>
<text x="900" y="834" font-size="9" fill="#000" stroke="#000" stroke-width="0.2" textLength="54.6" lengthAdjust="spacingAndGlyphs">21 Mar 08:00</text>
<text x="964" y="834" font-size="9" fill="#000" stroke="#000" stroke-width="0.2" textLength="54.6" lengthAdjust="spacingAndGlyphs">22 Mar 00:00</text>
<text x="1028" y="834" font-size="9" fill="#000" stroke="#000" stroke-width="0.2" textLength="54.6" lengthAdjust="spacingAndGlyphs">22 Mar 16:00</text>
<text x="1092" y="834" font-size="9" fill="#000" stroke="#000" stroke-width="0.2" textLength="54.6" lengthAdjust="spacingAndGlyphs">23 Mar 08:00</text>
<text x="1156" y="834" font-size="9" fill="#000" stroke="#000" stroke-width="0.2" textLength="54.6" lengthAdjust="spacingAndGlyphs">24 Mar 00:00</text>
<text x="1220" y="834" font-size="9" fill="#000" stroke="#000" stroke-width="0.2" textLength="54.6" lengthAdjust="spacingAndGlyphs">24 Mar 16:00</text>
<text x="1284" y="834" font-size="9" fill="#000" stroke="#000" stroke-width="0.2" textLength="54.6" lengthAdjust="spacingAndGlyphs">27 Mar 08:00</text>
<defs><linearGradient id="gold" x1="0" y1="0" x2="0.6" y2="1"><stop offset="0" stop-color="#fdf0a0"/><stop offset="0.35" stop-color="#f8d02a"/><stop offset="0.75" stop-color="#eab416"/><stop offset="1" stop-color="#c88c12"/></linearGradient><linearGradient id="grn" x1="0" y1="0" x2="0" y2="1"><stop offset="0" stop-color="#7dff7d"/><stop offset="1" stop-color="#0fb80f"/></linearGradient><linearGradient id="badge" x1="0" y1="0" x2="0" y2="1"><stop offset="0" stop-color="#ea5b3c"/><stop offset="1" stop-color="#dc2410"/></linearGradient><radialGradient id="clk" cx="0.4" cy="0.35" r="0.8"><stop offset="0" stop-color="#2a7ce8"/><stop offset="1" stop-color="#083c98"/></radialGradient><linearGradient id="lens" x1="0" y1="0" x2="0" y2="1"><stop offset="0" stop-color="#f2fbff"/><stop offset="1" stop-color="#bfe6fa"/></linearGradient><linearGradient id="hat" x1="0" y1="0" x2="0" y2="1"><stop offset="0" stop-color="#8fd0f0"/><stop offset="1" stop-color="#3a8cc8"/></linearGradient><linearGradient id="face" x1="0" y1="0" x2="1" y2="1"><stop offset="0" stop-color="#fff0a0"/><stop offset="1" stop-color="#e8b020"/></linearGradient><pattern id="chk" width="2" height="2" patternUnits="userSpaceOnUse"><rect width="2" height="2" fill="#ffffff"/><rect width="1" height="1" fill="#f0f0f0"/><rect x="1" y="1" width="1" height="1" fill="#f0f0f0"/></pattern><linearGradient id="cloud" x1="0" y1="0" x2="0" y2="1"><stop offset="0" stop-color="#ffffff"/><stop offset="0.45" stop-color="#f4f6fb"/><stop offset="1" stop-color="#b0bcd8"/></linearGradient><linearGradient id="sig" x1="0" y1="0" x2="0.3" y2="1"><stop offset="0" stop-color="#dcebd8" stop-opacity="0.7"/><stop offset="0.5" stop-color="#a8d0a0" stop-opacity="0.85"/><stop offset="1" stop-color="#2c9c2c"/></linearGradient></defs>
<g shape-rendering="crispEdges">
<rect x="214" y="0" width="1" height="24" fill="#a0a0a0"/>
<rect x="215" y="0" width="1" height="24" fill="#ffffff"/>
<rect x="582" y="0" width="1" height="24" fill="#a0a0a0"/>
<rect x="583" y="0" width="1" height="24" fill="#ffffff"/>
<rect x="888" y="0" width="1" height="24" fill="#a0a0a0"/>
<rect x="889" y="0" width="1" height="24" fill="#ffffff"/>
<rect x="1149" y="0" width="1" height="24" fill="#a0a0a0"/>
<rect x="1150" y="0" width="1" height="24" fill="#ffffff"/>
<rect x="218" y="2" width="3" height="1" fill="#a0a0a0"/>
<rect x="218" y="4" width="3" height="1" fill="#a0a0a0"/>
<rect x="218" y="6" width="3" height="1" fill="#a0a0a0"/>
<rect x="218" y="8" width="3" height="1" fill="#a0a0a0"/>
<rect x="218" y="10" width="3" height="1" fill="#a0a0a0"/>
<rect x="218" y="12" width="3" height="1" fill="#a0a0a0"/>
<rect x="218" y="14" width="3" height="1" fill="#a0a0a0"/>
<rect x="218" y="16" width="3" height="1" fill="#a0a0a0"/>
<rect x="218" y="18" width="3" height="1" fill="#a0a0a0"/>
<rect x="218" y="20" width="3" height="1" fill="#a0a0a0"/>
<rect x="586" y="2" width="3" height="1" fill="#a0a0a0"/>
<rect x="586" y="4" width="3" height="1" fill="#a0a0a0"/>
<rect x="586" y="6" width="3" height="1" fill="#a0a0a0"/>
<rect x="586" y="8" width="3" height="1" fill="#a0a0a0"/>
<rect x="586" y="10" width="3" height="1" fill="#a0a0a0"/>
<rect x="586" y="12" width="3" height="1" fill="#a0a0a0"/>
<rect x="586" y="14" width="3" height="1" fill="#a0a0a0"/>
<rect x="586" y="16" width="3" height="1" fill="#a0a0a0"/>
<rect x="586" y="18" width="3" height="1" fill="#a0a0a0"/>
<rect x="586" y="20" width="3" height="1" fill="#a0a0a0"/>
<rect x="892" y="2" width="3" height="1" fill="#a0a0a0"/>
<rect x="892" y="4" width="3" height="1" fill="#a0a0a0"/>
<rect x="892" y="6" width="3" height="1" fill="#a0a0a0"/>
<rect x="892" y="8" width="3" height="1" fill="#a0a0a0"/>
<rect x="892" y="10" width="3" height="1" fill="#a0a0a0"/>
<rect x="892" y="12" width="3" height="1" fill="#a0a0a0"/>
<rect x="892" y="14" width="3" height="1" fill="#a0a0a0"/>
<rect x="892" y="16" width="3" height="1" fill="#a0a0a0"/>
<rect x="892" y="18" width="3" height="1" fill="#a0a0a0"/>
<rect x="892" y="20" width="3" height="1" fill="#a0a0a0"/>
<rect x="309" y="1" width="1" height="21" fill="#a0a0a0"/>
<rect x="399" y="1" width="1" height="21" fill="#a0a0a0"/>
<rect x="461" y="1" width="1" height="21" fill="#a0a0a0"/>
<rect x="649" y="1" width="1" height="21" fill="#a0a0a0"/>
<rect x="252" y="0" width="25" height="22" fill="url(#chk)"/>
<rect x="252" y="0" width="25" height="1" fill="#a0a0a0"/>
<rect x="252" y="0" width="1" height="22" fill="#a0a0a0"/>
<rect x="277" y="0" width="1" height="23" fill="#ffffff"/>
<rect x="252" y="22" width="26" height="1" fill="#ffffff"/>
<rect x="404" y="0" width="25" height="22" fill="url(#chk)"/>
<rect x="404" y="0" width="25" height="1" fill="#a0a0a0"/>
<rect x="404" y="0" width="1" height="22" fill="#a0a0a0"/>
<rect x="429" y="0" width="1" height="23" fill="#ffffff"/>
<rect x="404" y="22" width="26" height="1" fill="#ffffff"/>
<rect x="432" y="0" width="25" height="22" fill="url(#chk)"/>
<rect x="432" y="0" width="25" height="1" fill="#a0a0a0"/>
<rect x="432" y="0" width="1" height="22" fill="#a0a0a0"/>
<rect x="457" y="0" width="1" height="23" fill="#ffffff"/>
<rect x="432" y="22" width="26" height="1" fill="#ffffff"/>
<rect x="592" y="0" width="25" height="22" fill="url(#chk)"/>
<rect x="592" y="0" width="25" height="1" fill="#a0a0a0"/>
<rect x="592" y="0" width="1" height="22" fill="#a0a0a0"/>
<rect x="617" y="0" width="1" height="23" fill="#ffffff"/>
<rect x="592" y="22" width="26" height="1" fill="#ffffff"/>
<rect x="1038" y="0" width="25" height="22" fill="url(#chk)"/>
<rect x="1038" y="0" width="25" height="1" fill="#a0a0a0"/>
<rect x="1038" y="0" width="1" height="22" fill="#a0a0a0"/>
<rect x="1063" y="0" width="1" height="23" fill="#ffffff"/>
<rect x="1038" y="22" width="26" height="1" fill="#ffffff"/>
<rect x="232" y="6" width="1" height="14" fill="#4d4d4d"/>
<rect x="230" y="17" width="14" height="1" fill="#4d4d4d"/>
<rect x="231" y="7" width="3" height="1" fill="#4d4d4d"/>
<rect x="242" y="16" width="1" height="3" fill="#4d4d4d"/>
<rect x="260" y="6" width="1" height="14" fill="#4d4d4d"/>
<rect x="258" y="17" width="14" height="1" fill="#4d4d4d"/>
<rect x="259" y="7" width="3" height="1" fill="#4d4d4d"/>
<rect x="270" y="16" width="1" height="3" fill="#4d4d4d"/>
<rect x="288" y="6" width="1" height="14" fill="#4d4d4d"/>
<rect x="286" y="17" width="14" height="1" fill="#4d4d4d"/>
<rect x="287" y="7" width="3" height="1" fill="#4d4d4d"/>
<rect x="298" y="16" width="1" height="3" fill="#4d4d4d"/>
<rect x="412" y="6" width="1" height="14" fill="#4d4d4d"/>
<rect x="410" y="17" width="14" height="1" fill="#4d4d4d"/>
<rect x="411" y="7" width="3" height="1" fill="#4d4d4d"/>
<rect x="422" y="16" width="1" height="3" fill="#4d4d4d"/>
<rect x="440" y="6" width="1" height="14" fill="#4d4d4d"/>
<rect x="438" y="17" width="14" height="1" fill="#4d4d4d"/>
<rect x="439" y="7" width="3" height="1" fill="#4d4d4d"/>
<rect x="450" y="16" width="1" height="3" fill="#4d4d4d"/>
<rect x="238" y="7" width="1" height="9" fill="#1a9a1a"/>
<rect x="239" y="8" width="2" height="1" fill="#1a9a1a"/>
<rect x="236" y="14" width="2" height="1" fill="#1a9a1a"/>
<rect x="266" y="4" width="1" height="12" fill="#0a8a0a"/>
<rect x="264" y="6" width="5" height="8" fill="#0a8a0a"/>
<rect x="265" y="7" width="3" height="6" fill="url(#grn)"/>
<rect x="446" y="6" width="1" height="10" fill="#1a6aa8"/>
<rect x="632" y="5" width="1" height="6" fill="#4d4d4d"/>
<rect x="632" y="14" width="1" height="6" fill="#4d4d4d"/>
<rect x="625" y="12" width="6" height="1" fill="#4d4d4d"/>
<rect x="634" y="12" width="6" height="1" fill="#4d4d4d"/>
<rect x="632" y="12" width="1" height="1" fill="#9a9a9a"/>
<rect x="666" y="6" width="1" height="13" fill="#4d4d4d"/>
<rect x="689" y="12" width="12" height="1" fill="#4d4d4d"/>
<rect x="772" y="5" width="1" height="1" fill="#4d4d4d"/>
<rect x="774" y="5" width="1" height="1" fill="#4d4d4d"/>
<rect x="776" y="5" width="1" height="1" fill="#4d4d4d"/>
<rect x="778" y="5" width="1" height="1" fill="#4d4d4d"/>
<rect x="780" y="5" width="1" height="1" fill="#4d4d4d"/>
<rect x="782" y="5" width="1" height="1" fill="#4d4d4d"/>
<rect x="784" y="5" width="1" height="1" fill="#4d4d4d"/>
<rect x="772" y="8" width="1" height="1" fill="#4d4d4d"/>
<rect x="774" y="8" width="1" height="1" fill="#4d4d4d"/>
<rect x="776" y="8" width="1" height="1" fill="#4d4d4d"/>
<rect x="778" y="8" width="1" height="1" fill="#4d4d4d"/>
<rect x="780" y="8" width="1" height="1" fill="#4d4d4d"/>
<rect x="782" y="8" width="1" height="1" fill="#4d4d4d"/>
<rect x="784" y="8" width="1" height="1" fill="#4d4d4d"/>
<rect x="772" y="12" width="1" height="1" fill="#4d4d4d"/>
<rect x="774" y="12" width="1" height="1" fill="#4d4d4d"/>
<rect x="776" y="12" width="1" height="1" fill="#4d4d4d"/>
<rect x="778" y="12" width="1" height="1" fill="#4d4d4d"/>
<rect x="780" y="12" width="1" height="1" fill="#4d4d4d"/>
<rect x="782" y="12" width="1" height="1" fill="#4d4d4d"/>
<rect x="784" y="12" width="1" height="1" fill="#4d4d4d"/>
<rect x="772" y="16" width="1" height="1" fill="#4d4d4d"/>
<rect x="774" y="16" width="1" height="1" fill="#4d4d4d"/>
<rect x="776" y="16" width="1" height="1" fill="#4d4d4d"/>
<rect x="778" y="16" width="1" height="1" fill="#4d4d4d"/>
<rect x="780" y="16" width="1" height="1" fill="#4d4d4d"/>
<rect x="829" y="6" width="1" height="1" fill="#4d4d4d"/>
<rect x="829" y="18" width="1" height="1" fill="#4d4d4d"/>
<rect x="831" y="6" width="1" height="1" fill="#4d4d4d"/>
<rect x="831" y="18" width="1" height="1" fill="#4d4d4d"/>
<rect x="833" y="6" width="1" height="1" fill="#4d4d4d"/>
<rect x="833" y="18" width="1" height="1" fill="#4d4d4d"/>
<rect x="835" y="6" width="1" height="1" fill="#4d4d4d"/>
<rect x="835" y="18" width="1" height="1" fill="#4d4d4d"/>
<rect x="837" y="6" width="1" height="1" fill="#4d4d4d"/>
<rect x="837" y="18" width="1" height="1" fill="#4d4d4d"/>
<rect x="839" y="6" width="1" height="1" fill="#4d4d4d"/>
<rect x="839" y="18" width="1" height="1" fill="#4d4d4d"/>
<rect x="829" y="6" width="1" height="1" fill="#4d4d4d"/>
<rect x="840" y="6" width="1" height="1" fill="#4d4d4d"/>
<rect x="829" y="8" width="1" height="1" fill="#4d4d4d"/>
<rect x="840" y="8" width="1" height="1" fill="#4d4d4d"/>
<rect x="829" y="10" width="1" height="1" fill="#4d4d4d"/>
<rect x="840" y="10" width="1" height="1" fill="#4d4d4d"/>
<rect x="829" y="12" width="1" height="1" fill="#4d4d4d"/>
<rect x="840" y="12" width="1" height="1" fill="#4d4d4d"/>
<rect x="829" y="14" width="1" height="1" fill="#4d4d4d"/>
<rect x="840" y="14" width="1" height="1" fill="#4d4d4d"/>
<rect x="829" y="16" width="1" height="1" fill="#4d4d4d"/>
<rect x="840" y="16" width="1" height="1" fill="#4d4d4d"/>
<rect x="829" y="18" width="1" height="1" fill="#4d4d4d"/>
<rect x="840" y="18" width="1" height="1" fill="#4d4d4d"/>
<rect x="828" y="5" width="2" height="1" fill="#4d4d4d"/>
<rect x="493" y="11" width="5" height="1" fill="#000"/>
<rect x="494" y="12" width="3" height="1" fill="#000"/>
<rect x="495" y="13" width="1" height="1" fill="#000"/>
<rect x="532" y="11" width="5" height="1" fill="#000"/>
<rect x="533" y="12" width="3" height="1" fill="#000"/>
<rect x="534" y="13" width="1" height="1" fill="#000"/>
<rect x="571" y="11" width="5" height="1" fill="#000"/>
<rect x="572" y="12" width="3" height="1" fill="#000"/>
<rect x="573" y="13" width="1" height="1" fill="#000"/>
<rect x="877" y="11" width="5" height="1" fill="#000"/>
<rect x="878" y="12" width="3" height="1" fill="#000"/>
<rect x="879" y="13" width="1" height="1" fill="#000"/>
<rect x="374" y="4" width="8" height="8" fill="#2e9a10"/>
<rect x="375" y="7" width="6" height="4" fill="#ffffff"/>
<rect x="376" y="8" width="4" height="1" fill="#8fd070"/>
<rect x="375" y="5" width="1" height="1" fill="#ffffff"/>
<rect x="382" y="4" width="8" height="8" fill="#1848c8"/>
<rect x="383" y="7" width="6" height="4" fill="#ffffff"/>
<rect x="384" y="8" width="4" height="1" fill="#7f9fe8"/>
<rect x="383" y="5" width="1" height="1" fill="#ffffff"/>
<rect x="374" y="12" width="8" height="8" fill="#1848c8"/>
<rect x="375" y="15" width="6" height="4" fill="#ffffff"/>
<rect x="376" y="16" width="4" height="1" fill="#7f9fe8"/>
<rect x="375" y="13" width="1" height="1" fill="#ffffff"/>
<rect x="382" y="12" width="8" height="8" fill="#2e9a10"/>
<rect x="383" y="15" width="6" height="4" fill="#ffffff"/>
<rect x="384" y="16" width="4" height="1" fill="#8fd070"/>
<rect x="383" y="13" width="1" height="1" fill="#ffffff"/>
<rect x="548" y="5" width="16" height="14" fill="#2a6ac0"/>
<rect x="549" y="5" width="14" height="1" fill="#6aa0e8"/>
<rect x="549" y="6" width="14" height="1" fill="#4f8ad8"/>
<rect x="549" y="8" width="14" height="5" fill="#ffffff"/>
<rect x="549" y="14" width="14" height="4" fill="#ffffff"/>
<rect x="0" y="14" width="4" height="4" fill="#0a8a0a"/>
<rect x="0" y="15" width="3" height="2" fill="#22dd22"/>
</g>
<path d="M60.7,5.2 L70.4,11.8 L70.7,14 L62.6,19.7 L55,13.8 C57.6,11.4 59.6,8.4 60.7,5.2 Z" fill="url(#gold)" stroke="#a86c10" stroke-width="0.9" stroke-linejoin="round"/>
<path d="M63,18.8 L70.2,13.4" fill="none" stroke="#e9dca8" stroke-width="1.1"/>
<path d="M56.4,13.6 L62.8,18.3" fill="none" stroke="#fbe78c" stroke-width="1.1"/>
<path d="M62.7,19.2 L70,12.2" fill="none" stroke="#a86c10" stroke-width="0.6"/>
<path d="M85,5.2 L88.8,4.2 L96,4.6 L96,12.6 L85,12.6 Z" fill="#18a0fb"/>
<path d="M85,5.4 L88.8,7.2 L88.8,12.6 L85,12.6 Z" fill="#0a86ec"/>
<path d="M85.6,5 L88.8,7 L88.8,12.6" fill="none" stroke="#e8f6ff" stroke-width="0.6"/>
<rect x="89.8" y="8" width="5.4" height="1.4" fill="#9adcff"/><rect x="90.6" y="8.3" width="3.6" height="0.8" fill="#e8f8ff"/>
<rect x="89.8" y="10.4" width="5.4" height="1.8" fill="#5cc0ff"/>
<path d="M85.2,19.6 C82.6,19.6 82.4,16.2 84.6,15.6 C84.6,13.4 87.4,12.8 88.6,14.2 C89.6,11.4 93.6,11.4 94.4,14 C96,12.8 98.2,14 97.8,16 C99.6,16.6 99.2,19.6 96.8,19.6 Z" fill="url(#cloud)" stroke="#41609e" stroke-width="0.9"/>
<path d="M119,12 L119,4.2 A7.9,7.9 0 0 1 119,19.9 Z" fill="url(#sig)"/>
<path d="M119,4.6 A7.4,7.4 0 0 0 119,19.4" fill="none" stroke="#2f5fcc" stroke-width="1.1" opacity="0.5"/>
<path d="M119,4.6 A7.4,7.4 0 0 1 126.4,12" fill="none" stroke="#5a7fc0" stroke-width="1.0" opacity="0.3"/>
<path d="M126.4,12 A7.4,7.4 0 0 1 119,19.4" fill="none" stroke="#3a8a4a" stroke-width="1.0" opacity="0.35"/>
<path d="M119,7.3 A4.7,4.7 0 0 0 119,16.7" fill="none" stroke="#2f5fcc" stroke-width="1.1" opacity="0.6"/>
<path d="M119,7.3 A4.7,4.7 0 0 1 123.7,12" fill="none" stroke="#5a7fc0" stroke-width="1.0" opacity="0.36"/>
<path d="M123.7,12 A4.7,4.7 0 0 1 119,16.7" fill="none" stroke="#3a8a4a" stroke-width="1.0" opacity="0.42"/>
<circle cx="118.8" cy="11.8" r="2" fill="#2456cc"/>
<path d="M119.5,12.4 L119.5,19.9" stroke="#1aa81a" stroke-width="1.4"/>
<path d="M138.4,11.6 L153.8,10.8 L147,19.8 L144.8,19 Z" fill="url(#face)" stroke="#d8a010" stroke-width="0.8" stroke-linejoin="round"/>
<path d="M138.2,9.4 C138.6,7.2 141,7 142.4,7.6 C142.6,3 149.4,3 149.6,7.2 C151,6.2 153.6,5.8 153.8,7.4 C154,9.6 150,11.2 145.6,11.2 C141.6,11.2 138,10.8 138.2,9.4 Z" fill="url(#hat)" stroke="#1c80b2" stroke-width="0.8"/>
<path d="M142.6,7.8 C144.4,9 148,8.8 149.6,7.4" fill="none" stroke="#2c88bc" stroke-width="0.6"/>
<circle cx="150.5" cy="15.8" r="4.15" fill="#dd2408" stroke="#b81800" stroke-width="0.5"/>
<rect x="149.1" y="14.3" width="3" height="2.8" fill="#ffffff"/>
<path d="M287.2,14.8 C290,13 291.5,9.4 293.4,9.4 C295.4,9.4 296.6,12.4 299,13.2" fill="none" stroke="#1a9a1a" stroke-width="1.3"/>
<path d="M328.2,14.4 L332.2,18.2" stroke="#a07810" stroke-width="3.6" stroke-linecap="round"/>
<path d="M328.4,14.5 L332.1,18.1" stroke="#ecd048" stroke-width="2" stroke-linecap="round"/>
<circle cx="324" cy="9.9" r="5.6" fill="url(#lens)" stroke="#3a80c8" stroke-width="1.1"/>
<rect x="321" y="9" width="6" height="2" fill="#4a8ebc"/>
<rect x="323" y="7" width="2" height="6" fill="#4a8ebc"/>
<path d="M356.2,14.4 L360.2,18.2" stroke="#a07810" stroke-width="3.6" stroke-linecap="round"/>
<path d="M356.4,14.5 L360.1,18.1" stroke="#ecd048" stroke-width="2" stroke-linecap="round"/>
<circle cx="352" cy="9.9" r="5.6" fill="url(#lens)" stroke="#3a80c8" stroke-width="1.1"/>
<rect x="349" y="9" width="6" height="2" fill="#4a8ebc"/>
<path d="M417.5,8.2 L421,11.6 L417.5,15 Z" fill="#7de87d" stroke="#1a9a1a" stroke-width="1"/>
<path d="M447.4,11.5 L452,11.5" stroke="#c83c00" stroke-width="1.2"/><path d="M447.3,11.5 L450.2,8.8 L449.6,11.5 L450.2,14.2 Z" fill="#c83c00"/>
<path d="M471.5,4.5 L479.5,4.5 L482.5,7.5 L482.5,17.5 L471.5,17.5 Z" fill="#ffffff" stroke="#9a9a9a" stroke-width="0.9"/>
<path d="M474,8 L474,15 M474.2,8 L476.5,8 M474.2,11 L476,11" stroke="#8a8060" stroke-width="0.8" fill="none"/>
<path d="M479.3,10.6 H482.9 V14 H486.6 V17.6 H482.9 V21.2 H479.3 V17.6 H475.6 V14 H479.3 Z" fill="#22cc22" stroke="#0a8a0a" stroke-width="0.9"/>
<circle cx="517" cy="12" r="7.8" fill="url(#clk)"/>
<circle cx="517" cy="12" r="5.1" fill="#f4f8ff"/>
<path d="M516.2,8.6 L517,12 L519.6,11.8" fill="none" stroke="#111" stroke-width="1.1"/>
<circle cx="517" cy="16.2" r="0.6" fill="#5aa0f0"/>
<path d="M550.2,11.3 L552.2,11.3 L554,9.8 L555.8,9.6 L557.4,10.6 L559.2,10.4 L561,9.4 L562.4,9.4" fill="none" stroke="#a02000" stroke-width="1.1"/>
<path d="M550.8,16.8 L552.4,16 L554.2,16.8 L556,16.6 L558.6,14.6 L559.8,14.8 L562,16.8" fill="none" stroke="#1a9a1a" stroke-width="1.1"/>
<path d="M831.3,9.8 H838.9 M835.1,9.8 V16.9" stroke="#4d4d4d" stroke-width="1.5" fill="none"/>
<path d="M600.1,4.7 L600.1,15.8 L602.6,13.6 L605.1,18.9 L606.9,18.2 L604.6,12.9 L608,12.3 Z" fill="#4d4d4d"/>
<path d="M716.8,18.8 L728.8,6.6" stroke="#4d4d4d" stroke-width="1.05"/>
<path d="M742.7,13.6 L750.8,6.1 M748,18.8 L757,10.3" stroke="#4d4d4d" stroke-width="0.8" opacity="0.75"/>
<path d="M745.3,11.2 V18.6 M748.4,10.3 V15.5 M751.5,8.2 V15.3 M754.6,4.1 V11.2" stroke="#4d4d4d" stroke-width="1.1" fill="none"/>
<path d="M743.6,17.4 L745.3,15.6 L748.4,13 L751.5,11.4 L754.6,8.2 L756.4,6.6" stroke="#4d4d4d" stroke-width="0.9" fill="none"/>
<g shape-rendering="crispEdges" fill="#4d4d4d"><rect x="859" y="6" width="1" height="1"/><rect x="858" y="7" width="3" height="1"/><rect x="857" y="8" width="5" height="1"/><rect x="856" y="9" width="7" height="1"/><rect x="858" y="10" width="3" height="1"/><rect x="865" y="14" width="3" height="1"/><rect x="863" y="15" width="7" height="1"/><rect x="864" y="16" width="5" height="1"/><rect x="865" y="17" width="3" height="1"/><rect x="866" y="18" width="1" height="1"/></g>
<path d="M858,13.3 L860.4,15.6 L864.8,10.4" fill="none" stroke="#4d4d4d" stroke-width="1.3"/>
<circle cx="1619.8" cy="9.5" r="3.7" fill="#f4f6ff" stroke="#2f62d2" stroke-width="1.3"/>
<path d="M1617,12.4 L1612,17" stroke="#2f62d2" stroke-width="2.2" stroke-linecap="round"/>
<path d="M1636.4,13.8 C1636.4,8 1647.6,8 1647.6,13.8 C1647.6,17.6 1643,18.6 1640.8,18.2 L1639.4,20.6 L1639,17.6 C1637.4,16.8 1636.4,15.6 1636.4,13.8 Z" fill="#e4e6f2" stroke="#b4b4b8" stroke-width="0.9"/>
<circle cx="1650.5" cy="9.5" r="8.1" fill="url(#badge)"/>
<text x="7" y="15.8" font-size="11.6" fill="#000" stroke="#000" stroke-width="0.18" textLength="36" lengthAdjust="spacingAndGlyphs" font-family='"Noto Sans CJK SC","Liberation Sans",sans-serif'>新订单</text>
<text x="159.6" y="15.8" font-size="11.6" fill="#000" stroke="#000" stroke-width="0.18" textLength="47.4" lengthAdjust="spacingAndGlyphs" font-family='"Noto Sans CJK SC","Liberation Sans",sans-serif'>自动交易</text>
<text x="903.8" y="16" font-size="9" fill="#3c3c3c" textLength="12.3" lengthAdjust="spacingAndGlyphs">M1</text>
<text x="931.9" y="16" font-size="9" fill="#3c3c3c" textLength="12.3" lengthAdjust="spacingAndGlyphs">M5</text>
<text x="957.7" y="16" font-size="9" fill="#3c3c3c" textLength="17.4" lengthAdjust="spacingAndGlyphs">M15</text>
<text x="985.6" y="16" font-size="9" fill="#3c3c3c" textLength="17.7" lengthAdjust="spacingAndGlyphs">M30</text>
<text x="1016.9" y="16" font-size="9" fill="#3c3c3c" textLength="11.4" lengthAdjust="spacingAndGlyphs">H1</text>
<text x="1043.7" y="16" font-size="9" fill="#3c3c3c" textLength="12.3" lengthAdjust="spacingAndGlyphs">H4</text>
<text x="1072.6" y="16" font-size="9" fill="#3c3c3c" textLength="11.4" lengthAdjust="spacingAndGlyphs">D1</text>
<text x="1100" y="16" font-size="9" fill="#3c3c3c" textLength="14" lengthAdjust="spacingAndGlyphs">W1</text>
<text x="1126.9" y="16" font-size="9" fill="#3c3c3c" textLength="14.1" lengthAdjust="spacingAndGlyphs">MN</text>
<text x="802.7" y="17" font-size="12" fill="#505050" stroke="#505050" stroke-width="0.12" textLength="8" lengthAdjust="spacingAndGlyphs">A</text>
<text x="754" y="21" font-size="7" fill="#333" textLength="4" lengthAdjust="spacingAndGlyphs" font-weight="bold">E</text>
<text x="782" y="21" font-size="7" fill="#333" textLength="4" lengthAdjust="spacingAndGlyphs" font-weight="bold">F</text>
<text x="1647.4" y="13.8" font-size="11.5" fill="#fff" stroke="#fff" stroke-width="0.35" textLength="6.4" lengthAdjust="spacingAndGlyphs">1</text>
</svg>
</body></html>
